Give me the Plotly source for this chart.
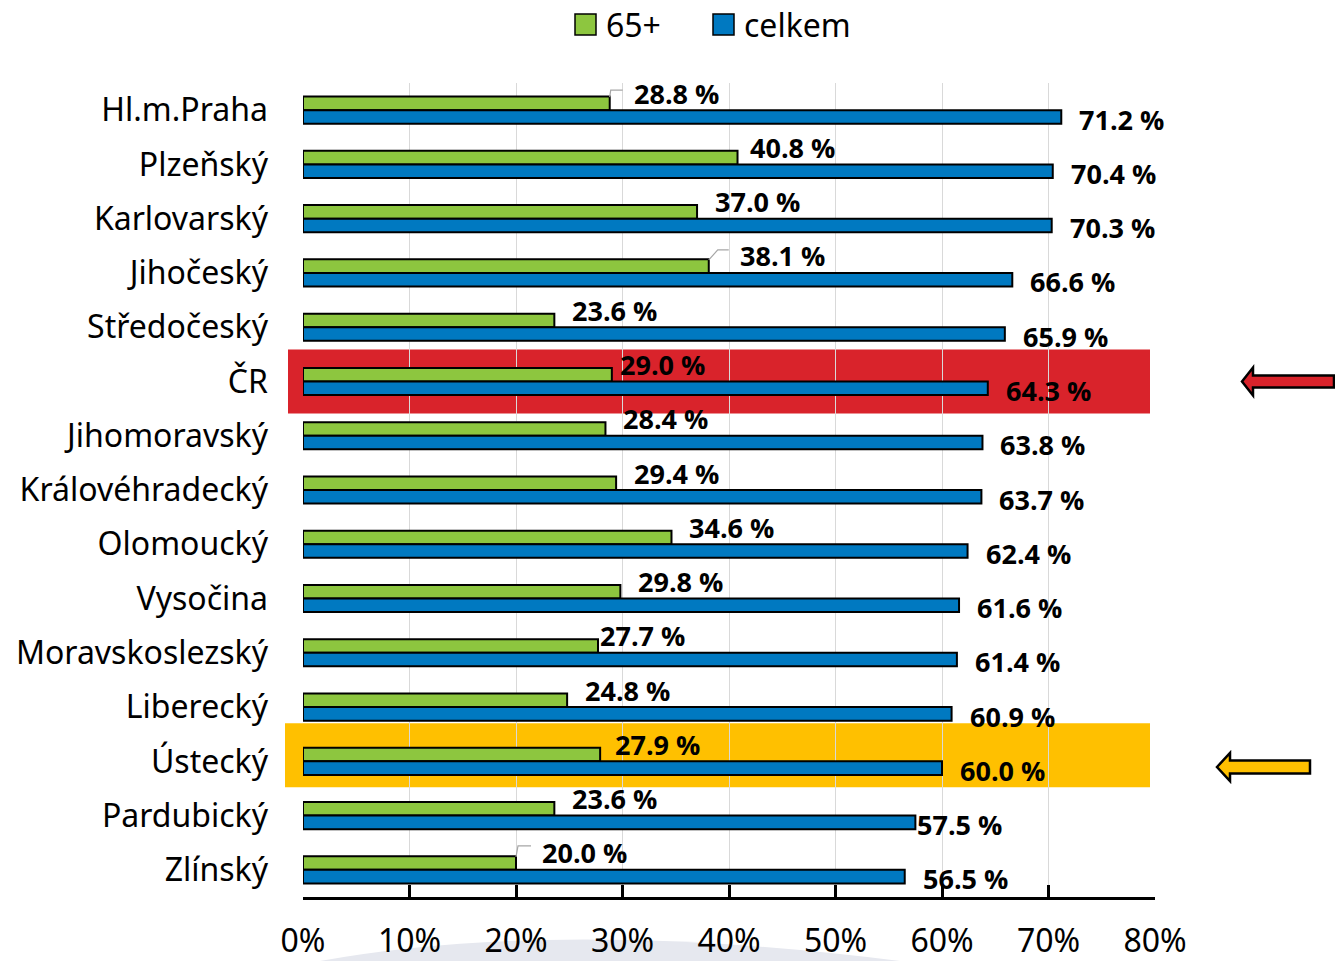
import plotly.graph_objects as go

regions = ["Hl.m.Praha", "Plzeňský", "Karlovarský", "Jihočeský", "Středočeský", "ČR",
           "Jihomoravský", "Královéhradecký", "Olomoucký", "Vysočina", "Moravskoslezský",
           "Liberecký", "Ústecký", "Pardubický", "Zlínský"]
seniors_65 = [28.8, 40.8, 37.0, 38.1, 23.6, 29.0, 28.4, 29.4, 34.6, 29.8, 27.7, 24.8, 27.9, 23.6, 20.0]
total = [71.2, 70.4, 70.3, 66.6, 65.9, 64.3, 63.8, 63.7, 62.4, 61.6, 61.4, 60.9, 60.0, 57.5, 56.5]
series_names = ["65+", "celkem"]
tick_vals = [0, 10, 20, 30, 40, 50, 60, 70, 80]
tick_text = ["0%", "10%", "20%", "30%", "40%", "50%", "60%", "70%", "80%"]

GREEN = "#8DC63F"
BLUE = "#0079C1"
W, H = 1335, 961
ML, MR, MT, MB = 303, 180, 83, 64
PW, PH = W - ML - MR, H - MT - MB

def px(xp):
    return (xp - ML) / PW

def py(yp):
    return (H - MB - yp) / PH

fig = go.Figure()
fig.add_trace(go.Bar(y=regions, x=seniors_65, orientation="h", name=series_names[0],
                     marker=dict(color=GREEN, line=dict(color="black", width=2))))
fig.add_trace(go.Bar(y=regions, x=total, orientation="h", name=series_names[1],
                     marker=dict(color=BLUE, line=dict(color="black", width=2))))

label_font = dict(family="Open Sans", size=27, color="black")
green_dx = {"Hl.m.Praha": 22, "Plzeňský": 10, "Jihočeský": 29, "ČR": 6,
            "Moravskoslezský": 0, "Ústecký": 13, "Zlínský": 24}
blue_dx = {"Pardubický": 0}
annotations = []
for r, v in zip(regions, seniors_65):
    annotations.append(dict(x=v, y=r, xref="x", yref="y", text=f"<b>{v:.1f} %</b>",
                            showarrow=False, xanchor="left", yanchor="middle",
                            xshift=green_dx.get(r, 16), yshift=17, font=label_font))
for r, v in zip(regions, total):
    annotations.append(dict(x=v, y=r, xref="x", yref="y", text=f"<b>{v:.1f} %</b>",
                            showarrow=False, xanchor="left", yanchor="middle",
                            xshift=blue_dx.get(r, 16), yshift=-9, font=label_font))

n = len(regions)
def row_center(name):
    i = regions.index(name)
    return 1 - (i + 0.5) / n

half = 32 / PH
shapes = []
# faint watermark behind the tick labels
shapes.append(dict(type="path", xref="paper", yref="paper", layer="below",
                   path=f"M {px(320)},{py(961)} Q {px(560)},{py(918)} {px(900)},{py(961)} Z",
                   fillcolor="#E6E8EF", line=dict(width=0)))
c = row_center("ČR")
shapes.append(dict(type="rect", xref="paper", yref="paper", x0=px(288), x1=px(1150),
                   y0=c - half, y1=c + half, fillcolor="#D9232B", line=dict(width=0), layer="below"))
c = row_center("Ústecký") + 6 / PH
shapes.append(dict(type="rect", xref="paper", yref="paper", x0=px(285), x1=px(1150),
                   y0=c - half, y1=c + half, fillcolor="#FFC000", line=dict(width=0), layer="below"))

def arrow(tip_x, tip_y, head_x, head_half, body_half, end_x, color):
    pts = [(tip_x, tip_y), (head_x, tip_y - head_half), (head_x, tip_y - body_half),
           (end_x, tip_y - body_half), (end_x, tip_y + body_half), (head_x, tip_y + body_half),
           (head_x, tip_y + head_half)]
    d = "M " + " L ".join(f"{px(a):.5f},{py(b):.5f}" for a, b in pts) + " Z"
    return dict(type="path", xref="paper", yref="paper", path=d, fillcolor=color,
                line=dict(color="black", width=2.5))

shapes.append(arrow(1242, 381.5, 1253, 14, 6, 1334, "#D9232B"))
shapes.append(arrow(1217, 767, 1230, 14, 6.5, 1310, "#FFC000"))

# leader lines for moved data labels (pixel offsets from the bar end)
leaders = {"Hl.m.Praha": [(0, 0), (1, -7), (13, -7)],
           "Jihočeský": [(0, 0), (9, -10), (20, -10)],
           "Zlínský": [(0, 0), (2, -11), (15, -11)]}
for r, pts in leaders.items():
    i = regions.index(r)
    v = seniors_65[i]
    x0p = ML + v / 80 * PW
    y0p = MT + (i + 0.5) / n * PH - 13
    d = "M " + " L ".join(f"{px(x0p + dx):.5f},{py(y0p + dy):.5f}" for dx, dy in pts)
    shapes.append(dict(type="path", xref="paper", yref="paper", path=d,
                       line=dict(color="#A6A6A6", width=1.2)))

# legend drawn manually (larger swatches than plotly's default)
legend_items = [(575, series_names[0], GREEN), (713, series_names[1], BLUE)]
for sx, name, col in legend_items:
    shapes.append(dict(type="rect", xref="paper", yref="paper", x0=px(sx), x1=px(sx + 21),
                       y0=py(35), y1=py(14), fillcolor=col, line=dict(color="black", width=1.5)))
    annotations.append(dict(x=px(sx + 29), y=py(24), xref="paper", yref="paper", text=name,
                            showarrow=False, xanchor="left", yanchor="middle",
                            font=dict(family="Noto Sans", size=32, color="black")))

fig.update_layout(
    width=W, height=H,
    margin=dict(l=ML, r=MR, t=MT, b=MB, autoexpand=False),
    paper_bgcolor="white", plot_bgcolor="white",
    barmode="group", bargap=0.5, bargroupgap=0,
    font=dict(family="Open Sans", color="black"),
    showlegend=False,
    annotations=annotations,
    shapes=shapes,
    xaxis=dict(range=[0, 80], tickvals=tick_vals, ticktext=tick_text,
               showgrid=True, gridcolor="#D9D9D9", gridwidth=1,
               showline=True, linecolor="black", linewidth=3,
               ticks="inside", ticklen=12, tickwidth=3, tickcolor="black",
               tickfont=dict(size=32, family="Noto Sans"), ticklabelstandoff=14,
               zeroline=False, fixedrange=True, automargin=False),
    yaxis=dict(range=[n - 0.5, -0.5], autorange=False, showgrid=False, showline=False,
               ticks="", tickfont=dict(size=32, family="Noto Sans"), ticklabelstandoff=34,
               fixedrange=True, automargin=False),
)

fig.write_html("out.html", config={"displayModeBar": False},
               post_script="document.body.style.margin='0';document.body.style.overflow='hidden';")
